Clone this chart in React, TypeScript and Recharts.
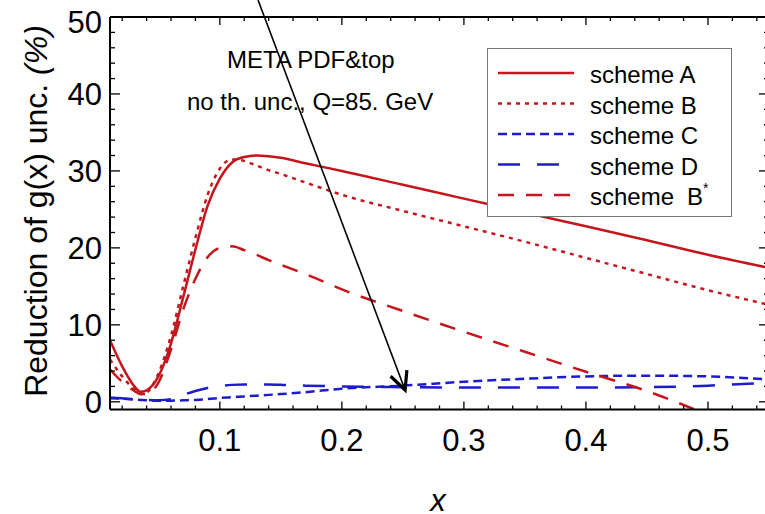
import { LineChart, Line, XAxis, YAxis, Legend, ReferenceLine } from 'recharts'

// x grid of the curves
const xs = [0.01, 0.02, 0.03, 0.035, 0.04, 0.05, 0.06, 0.07, 0.08, 0.09, 0.1, 0.11, 0.12, 0.13, 0.14, 0.15, 0.17, 0.2, 0.25, 0.3, 0.35, 0.4, 0.45, 0.5, 0.55]

const schemeA = [8.0, 4.6, 2.0, 1.3, 1.5, 3.4, 7.6, 13.6, 19.8, 25.5, 29.0, 31.1, 31.8, 32.0, 31.9, 31.7, 31.0, 30.0, 28.2, 26.4, 24.6, 22.8, 21.0, 19.1, 17.4]
const schemeB = [5.5, 3.3, 1.6, 1.0, 1.2, 3.8, 8.6, 15.0, 21.3, 26.9, 30.3, 31.5, 31.3, 30.7, 30.1, 29.6, 28.5, 26.9, 24.8, 22.8, 20.8, 18.7, 16.6, 14.5, 12.6]
const schemeC = [0.45, 0.4, 0.3, 0.25, 0.2, 0.15, 0.15, 0.2, 0.25, 0.35, 0.5, 0.6, 0.7, 0.8, 0.9, 1.0, 1.25, 1.7, 2.1, 2.6, 3.0, 3.3, 3.4, 3.3, 2.9]
const schemeD = [0.55, 0.45, 0.35, 0.3, 0.25, 0.2, 0.35, 0.9, 1.4, 1.8, 2.05, 2.2, 2.25, 2.25, 2.25, 2.2, 2.1, 2.0, 1.9, 1.85, 1.85, 1.85, 1.9, 2.1, 2.5]
const schemeBStar = [4.2, 2.6, 1.4, 1.0, 1.0, 2.6, 6.8, 12.0, 16.0, 18.8, 20.0, 20.2, 19.7, 19.1, 18.4, 17.8, 16.6, 14.6, 11.8, 9.1, 6.5, 3.9, 1.4, -1.7, -5.0]

const xTicks = [0.02, 0.04, 0.06, 0.08, 0.1, 0.12, 0.14, 0.16, 0.18, 0.2, 0.22, 0.24, 0.26, 0.28, 0.3, 0.32, 0.34, 0.36, 0.38, 0.4, 0.42, 0.44, 0.46, 0.48, 0.5, 0.52, 0.54]
const xLabels = [0.1, 0.2, 0.3, 0.4, 0.5]
const yTicks = [0, 2, 4, 6, 8, 10, 12, 14, 16, 18, 20, 22, 24, 26, 28, 30, 32, 34, 36, 38, 40, 42, 44, 46, 48, 50]
const yLabels = [0, 10, 20, 30, 40, 50]

const RED = '#c4161c'
const BLUE = '#1c1ccc'
const FONT = '"Liberation Sans", Arial, sans-serif'

const series = [
  { key: 'a', name: 'scheme A', color: RED, dash: undefined as string | undefined },
  { key: 'b', name: 'scheme B', color: RED, dash: '4 5' },
  { key: 'c', name: 'scheme C', color: BLUE, dash: '9 5' },
  { key: 'd', name: 'scheme D', color: BLUE, dash: '22 17' },
  { key: 'bs', name: 'scheme B*', color: RED, dash: '16 12' },
]

const data = xs.map((x, i) => ({
  x,
  a: schemeA[i],
  b: schemeB[i],
  c: schemeC[i],
  d: schemeD[i],
  bs: schemeBStar[i],
}))

const near = (list: number[], v: number) => list.some((t) => Math.abs(t - v) < 1e-9)

const BottomTick = (props: any) => {
  const { x, y, payload } = props
  const major = near(xLabels, payload.value)
  return (
    <g>
      <line x1={x} y1={y} x2={x} y2={y - (major ? 8 : 4)} stroke="#000" strokeWidth={1.3} />
      {major && (
        <text x={x} y={y + 41} textAnchor="middle" fontSize={31} fontFamily={FONT} fill="#000">
          {payload.value.toFixed(1)}
        </text>
      )}
    </g>
  )
}

const TopTick = (props: any) => {
  const { x, y, payload } = props
  const major = near(xLabels, payload.value)
  return <line x1={x} y1={y} x2={x} y2={y + (major ? 8 : 4)} stroke="#000" strokeWidth={1.3} />
}

const LeftTick = (props: any) => {
  const { x, y, payload } = props
  const major = near(yLabels, payload.value)
  return (
    <g>
      <line x1={x} y1={y} x2={x + (major ? 10 : 5)} y2={y} stroke="#000" strokeWidth={1.3} />
      {major && (
        <text x={x - 8} y={y + (payload.value === 50 ? 16 : 11)} textAnchor="end" fontSize={31} fontFamily={FONT} fill="#000">
          {payload.value}
        </text>
      )}
    </g>
  )
}

const RightTick = (props: any) => {
  const { x, y, payload } = props
  const major = near(yLabels, payload.value)
  return <line x1={x} y1={y} x2={x - (major ? 10 : 5)} y2={y} stroke="#000" strokeWidth={1.3} />
}

const Arrow = (props: any) => {
  const { x1, y1, x2, y2 } = props
  const ang = Math.atan2(y1 - y2, x1 - x2)
  const len = 20
  const spread = 0.45
  return (
    <g>
      <line x1={x1} y1={y1} x2={x2} y2={y2} stroke="#000" strokeWidth={1.6} />
      <polyline
        points={`${x2 + len * Math.cos(ang + spread)},${y2 + len * Math.sin(ang + spread)} ${x2},${y2} ${x2 + len * Math.cos(ang - spread)},${y2 + len * Math.sin(ang - spread)}`}
        fill="none"
        stroke="#000"
        strokeWidth={3.2}
        strokeLinejoin="miter"
      />
    </g>
  )
}

const LegendBox = () => (
  <svg width={245} height={170} style={{ display: 'block' }}>
    <rect x={0.5} y={0.5} width={244} height={168} fill="#fff" stroke="#777" strokeWidth={1} />
    {series.map((s, i) => {
      const cy = 25 + i * 30.5
      return (
        <g key={s.key}>
          <line x1={11} y1={cy} x2={87} y2={cy} stroke={s.color} strokeWidth={2.5} strokeDasharray={s.dash} />
          <text x={103} y={cy + 10} fontSize={24} fontFamily={FONT} fill="#000">
            {s.key === 'bs' ? (
              <>
                scheme<tspan dx={13}>B</tspan>
                <tspan fontSize={14} dy={-12}>*</tspan>
              </>
            ) : (
              s.name
            )}
          </text>
        </g>
      )
    })}
  </svg>
)

export default function App() {
  return (
    <div style={{ position: 'absolute', left: 0, top: 0, width: 765, height: 514, overflow: 'hidden', background: '#fff' }}>
      <LineChart width={780} height={514} data={data} margin={{ top: 16, right: 10, bottom: 64.5, left: 0 }}>
        <XAxis
          dataKey="x"
          type="number"
          domain={[0.01, 0.55]}
          allowDataOverflow
          ticks={xTicks}
          interval={0}
          tickSize={0}
          tickMargin={0}
          tick={<BottomTick />}
          height={40}
          axisLine={{ stroke: '#000', strokeWidth: 2 }}
        />
        <XAxis
          xAxisId="top"
          orientation="top"
          dataKey="x"
          type="number"
          domain={[0.01, 0.55]}
          allowDataOverflow
          ticks={xTicks}
          interval={0}
          tickSize={0}
          tickMargin={0}
          tick={<TopTick />}
          height={1}
          axisLine={{ stroke: '#000', strokeWidth: 2 }}
        />
        <YAxis
          type="number"
          domain={[-1, 50]}
          allowDataOverflow
          ticks={yTicks}
          interval={0}
          tickSize={0}
          tickMargin={0}
          tick={<LeftTick />}
          width={110}
          axisLine={{ stroke: '#000', strokeWidth: 2 }}
        />
        <YAxis
          yAxisId="right"
          orientation="right"
          type="number"
          domain={[-1, 50]}
          allowDataOverflow
          ticks={yTicks}
          interval={0}
          tickSize={0}
          tickMargin={0}
          tick={<RightTick />}
          width={1}
          axisLine={{ stroke: '#000', strokeWidth: 2 }}
        />
        {series.map((s) => (
          <Line
            key={s.key}
            dataKey={s.key}
            name={s.name}
            type="monotone"
            stroke={s.color}
            strokeWidth={2.5}
            strokeDasharray={s.dash}
            dot={false}
            activeDot={false}
            isAnimationActive={false}
          />
        ))}
        <ReferenceLine
          segment={[{ x: 0.1313, y: 52.2 }, { x: 0.2518, y: 1.53 }]}
          ifOverflow="visible"
          shape={<Arrow />}
        />
        <Legend
          layout="vertical"
          align="center"
          verticalAlign="middle"
          content={<LegendBox />}
          wrapperStyle={{ left: 487, top: 48, width: 245, height: 170 }}
        />
        <text x={227} y={68} fontSize={24} fontFamily={FONT} fill="#000">META PDF&amp;top</text>
        <text x={187} y={110} fontSize={24} fontFamily={FONT} fill="#000">no th. unc., Q=85. GeV</text>
        <text x={47} y={211} transform="rotate(-90, 47, 211)" textAnchor="middle" fontSize={32} fontFamily={FONT} fill="#000">
          Reduction of g(x) unc. <tspan fontStyle="italic">(%)</tspan>
        </text>
        <text x={438} y={511} textAnchor="middle" fontSize={31} fontStyle="italic" fontFamily={FONT} fill="#000">x</text>
      </LineChart>
    </div>
  )
}
